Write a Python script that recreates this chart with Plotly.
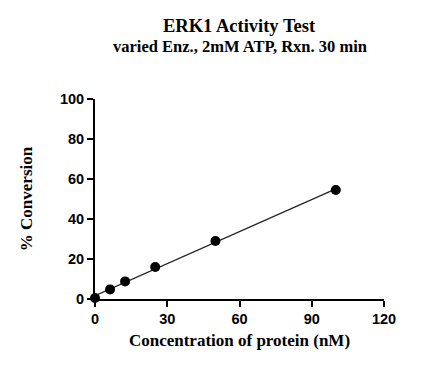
import numpy as np
import plotly.graph_objects as go

conc_nM = [0, 6.25, 12.5, 25, 50, 100]
conversion = [0.5, 4.8, 8.8, 16.0, 29.0, 54.5]
x_ticks = [0, 30, 60, 90, 120]
y_ticks = [0, 20, 40, 60, 80, 100]
title_text = "ERK1 Activity Test"
subtitle_text = "varied Enz., 2mM ATP, Rxn. 30 min"

slope, intercept = np.polyfit(conc_nM, conversion, 1)
fit_x = [min(conc_nM), max(conc_nM)]
fit_y = [slope * v + intercept for v in fit_x]

fig = go.Figure()
fig.add_trace(go.Scatter(x=fit_x, y=fit_y, mode="lines",
                         line=dict(color="#222222", width=1.2),
                         cliponaxis=False, hoverinfo="skip"))
fig.add_trace(go.Scatter(x=conc_nM, y=conversion, mode="markers",
                         marker=dict(color="black", size=10),
                         cliponaxis=False))

serif = "Liberation Serif, Times New Roman"
tick_font = dict(family="Liberation Sans, Arial", size=14.5, color="black")
title_font = dict(family=serif, size=17, color="black")

# page body has an 8px margin, so the figure is sized to fit the window
fig.update_layout(
    width=423, height=358,
    margin=dict(l=87, r=47, t=91, b=67, autoexpand=False),
    plot_bgcolor="white", paper_bgcolor="white",
    showlegend=False,
    annotations=[
        dict(text=f"<b>{title_text}</b>", xref="paper", yref="paper",
             x=0.5, y=1.365, xanchor="center", yanchor="middle", showarrow=False,
             font=dict(family=serif, size=18.5, color="black")),
        dict(text=f"<b>{subtitle_text}</b>", xref="paper", yref="paper",
             x=0.5, y=1.262, xanchor="center", yanchor="middle", showarrow=False,
             font=dict(family=serif, size=16.5, color="black")),
    ],
)
fig.update_xaxes(
    range=[0, 120], tickvals=x_ticks, ticktext=[f"<b>{v}</b>" for v in x_ticks],
    showline=True, linecolor="black", linewidth=2,
    ticks="outside", ticklen=6, tickwidth=2, tickcolor="black",
    showgrid=False, zeroline=False, tickfont=tick_font, automargin=False,
    title=dict(text="<b>Concentration of protein (nM)</b>", font=title_font, standoff=8),
)
fig.update_yaxes(
    range=[0, 100], tickvals=y_ticks, ticktext=[f"<b>{v}</b>" for v in y_ticks],
    showline=True, linecolor="black", linewidth=2,
    ticks="outside", ticklen=6, tickwidth=2, tickcolor="black",
    showgrid=False, zeroline=False, tickfont=tick_font, automargin=False,
    title=dict(text="<b>% Conversion</b>", font=title_font, standoff=23),
)

fig.write_html("out.html")
